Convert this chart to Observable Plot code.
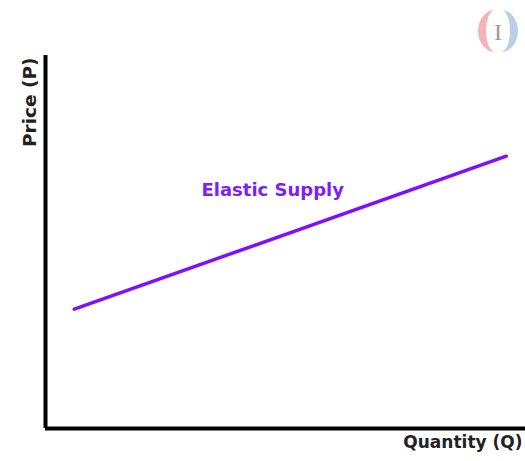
<!DOCTYPE html>
<html>
<head>
<meta charset="utf-8">
<script src="https://cdn.jsdelivr.net/npm/d3@7"></script>
<script src="https://cdn.jsdelivr.net/npm/@observablehq/plot@0.6"></script>
<style>
  html, body { margin: 0; padding: 0; background: #fff; }
  #wrap { position: relative; width: 525px; height: 461px; }
  #logo { position: absolute; left: 473px; top: 7px; width: 50px; height: 48px; }
</style>
</head>
<body>
<div id="wrap">
  <div id="chart"></div>
  <svg id="logo" viewBox="0 0 50 48">
    <path d="M22,3 A17,21 0 0,0 22,45 A9,21 0 0,1 22,3 Z" fill="#f7a9ac" opacity="0.9"/>
    <path d="M28,3 A17,21 0 0,1 28,45 A9,21 0 0,0 28,3 Z" fill="#b2c9e3" opacity="0.9"/>
    <text x="25" y="33" text-anchor="middle" font-family="Liberation Serif" font-size="24" fill="#9a9a9a">I</text>
  </svg>
</div>
<script>
// Data
const quantity = [6, 96];
const price = [32, 73];
const seriesLabel = "Elastic Supply";
const labelPos = {q: 32.5, p: 64};
const xLabel = "Quantity (Q)";
const yLabel = "Price (P)";

const supply = quantity.map((q, i) => ({q, p: price[i]}));
const font = "DejaVu Sans, Verdana, sans-serif";

const chart = Plot.plot({
  width: 525,
  height: 461,
  marginLeft: 45,
  marginRight: 0,
  marginTop: 55,
  marginBottom: 33,
  x: {domain: [0, 100], axis: null},
  y: {domain: [0, 100], axis: null},
  style: {fontFamily: font, background: "#fff"},
  marks: [
    Plot.line(supply, {x: "q", y: "p", stroke: "#7f10ff", strokeWidth: 3.5}),
    Plot.text([seriesLabel], {x: [labelPos.q], y: [labelPos.p], text: d => d, textAnchor: "start", fill: "#7a22f5", fontSize: 18, fontWeight: "bold"}),
    Plot.ruleX([0], {stroke: "#000", strokeWidth: 4, y1: 0, y2: 100}),
    Plot.ruleY([0], {stroke: "#000", strokeWidth: 4}),
    Plot.text([xLabel], {frameAnchor: "bottom-right", text: d => d, textAnchor: "end", dx: -3, dy: 19, fontSize: 17, fontWeight: "bold", fill: "#222"}),
    Plot.text([yLabel], {frameAnchor: "top-left", text: d => d, rotate: -90, textAnchor: "end", dx: -23, dy: 2, fontSize: 18.5, fontWeight: "bold", fill: "#222"})
  ]
});
document.getElementById("chart").appendChild(chart);
</script>
</body>
</html>
